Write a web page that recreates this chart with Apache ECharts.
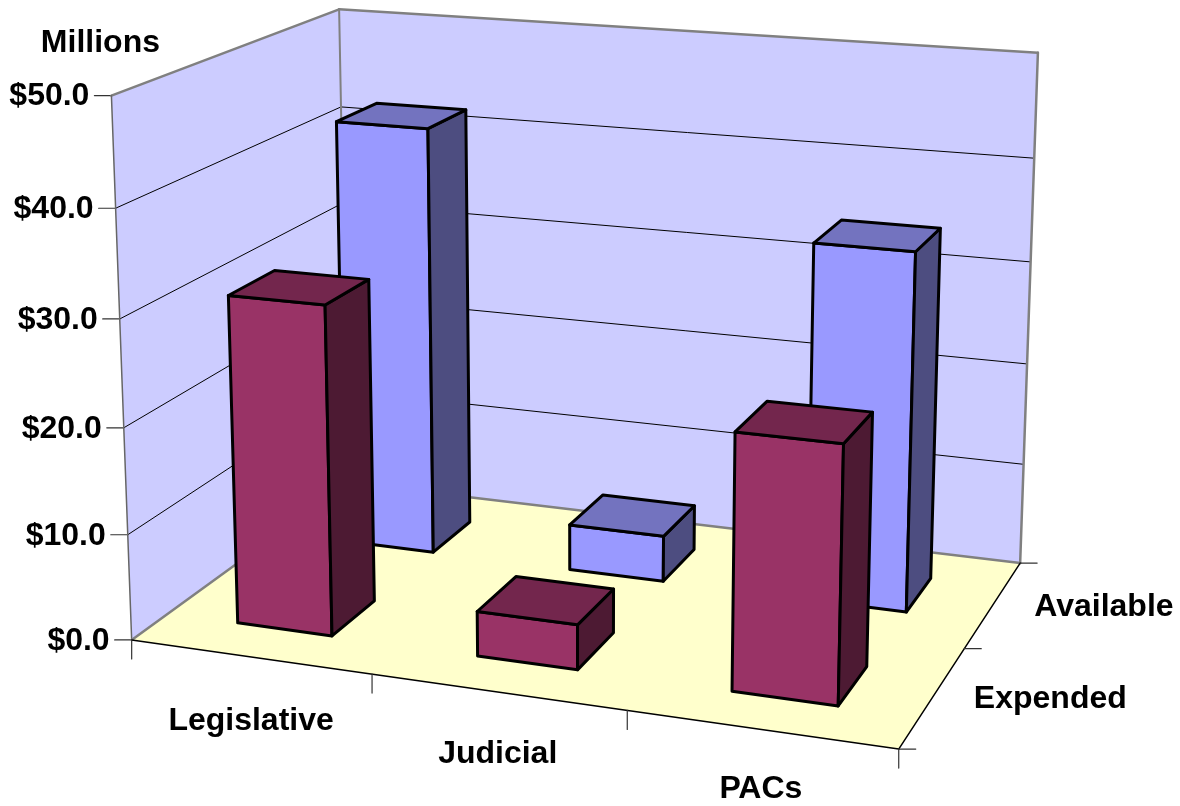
<!DOCTYPE html>
<html><head><meta charset="utf-8">
<style>html,body{margin:0;padding:0;background:#fff}#c{width:1180px;height:806px}</style>
<script src="https://cdn.jsdelivr.net/npm/echarts@6/dist/echarts.min.js"></script></head>
<body><div id="c"></div>
<script>
const categories = ['Legislative', 'Judicial', 'PACs'];
const depthRows = ['Expended', 'Available'];
const expended = [31, 4.2, 23.4];
const available = [42.2, 4.5, 34.3];
const valueTicks = [0, 10, 20, 30, 40, 50];
const unit = 'Millions';
const valueMax = 50;

// Perspective camera fitted to the reference's box: [x, depth, height] -> [px, py]
const anchors = [
  [0,0,0,133,640],[1,0,0,898,748],[1,1,0,1021,563],[0,1,0,347,482],
  [0,0,1,111,95],[0,1,1,340,9],[1,1,1,1039,53],
  [0,0,.8,115,208],[0,1,.8,341,108],[1,1,.8,1033,158],[1,1,.6,1030,262],[0,0,.6,120,319],
  [1/3,0,0,372,675],[2/3,0,0,627,711],[1,.5,0,965,649]
];
function fitCamera(pts){
  const n=11, A=[...Array(n)].map(()=>Array(n+1).fill(0));
  const add=(r,b)=>{for(let i=0;i<n;i++){for(let j=0;j<n;j++)A[i][j]+=r[i]*r[j];A[i][n]+=r[i]*b;}};
  pts.forEach(([x,y,z,px,py])=>{
    const u=px/1000,v=py/1000;
    add([x,y,z,1,0,0,0,0,-u*x,-u*y,-u*z],u);
    add([0,0,0,0,x,y,z,1,-v*x,-v*y,-v*z],v);
  });
  for(let i=0;i<n;i++){
    let m=i;for(let k=i+1;k<n;k++)if(Math.abs(A[k][i])>Math.abs(A[m][i]))m=k;
    [A[i],A[m]]=[A[m],A[i]];
    for(let k=0;k<n;k++){if(k===i)continue;const f=A[k][i]/A[i][i];for(let j=i;j<=n;j++)A[k][j]-=f*A[i][j];}
  }
  return A.map((r,i)=>r[n]/r[i]);
}
const cam = fitCamera(anchors);
function project(x,y,z){
  const w=cam[8]*x+cam[9]*y+cam[10]*z+1;
  return [1000*(cam[0]*x+cam[1]*y+cam[2]*z+cam[3])/w, 1000*(cam[4]*x+cam[5]*y+cam[6]*z+cam[7])/w];
}
const FONT = 'bold 32px "Liberation Sans", Arial, sans-serif';
const WALL='#CCCCFF', FLOOR='#FFFFCC', EDGE='#808080';
const catLabelDrop=[64,62,60], rowLabelDrop=[2,3];
const poly=(pts,fill,stroke,lw)=>({type:'polygon',shape:{points:pts},silent:true,style:{fill,stroke:stroke||null,lineWidth:lw||0,lineJoin:'round'}});
const seg=(a,b,stroke,lw)=>({type:'line',shape:{x1:a[0],y1:a[1],x2:b[0],y2:b[1]},silent:true,style:{stroke,lineWidth:lw,lineCap:'round'}});
const txt=(p,text,align)=>({type:'text',silent:true,style:{x:p[0],y:p[1],text,font:FONT,fill:'#000',align,verticalAlign:'middle'}});

function renderFrame(params,api){
  const s=params.coordSys, ch=[];
  const zOf=v=>(s.y+s.height-api.coord([0,v])[1])/s.height;
  const P=project;
  ch.push(poly([P(0,0,0),P(0,1,0),P(0,1,1),P(0,0,1)],WALL));
  ch.push(poly([P(0,1,0),P(1,1,0),P(1,1,1),P(0,1,1)],WALL));
  ch.push(poly([P(0,0,0),P(1,0,0),P(1,1,0),P(0,1,0)],FLOOR));
  valueTicks.forEach(v=>{
    const z=zOf(v), a=P(0,0,z);
    if(v>0&&v<valueMax){
      ch.push(seg(a,P(0,1,z),'#000',1));
      ch.push(seg(P(0,1,z),P(1,1,z),'#000',1));
    }
    ch.push(seg(a,[a[0]-17,a[1]],'#333',1.2));
    ch.push(txt([a[0]-22,a[1]+1],'$'+v.toFixed(1),'right'));
  });
  ch.push(seg(P(0,0,1),P(0,1,1),EDGE,2.5));
  ch.push(seg(P(0,1,1),P(1,1,1),EDGE,2.5));
  ch.push(seg(P(0,1,1),P(0,1,0),EDGE,2));
  ch.push(seg(P(1,1,1),P(1,1,0),EDGE,2.5));
  ch.push(seg(P(0,0,1),P(0,0,0),'#666',1.5));
  ch.push(seg(P(0,0,0),P(0,1,0),EDGE,2.5));
  ch.push(seg(P(0,1,0),P(1,1,0),EDGE,2.5));
  ch.push(seg(P(0,0,0),P(1,0,0),'#000',1.5));
  ch.push(seg(P(1,0,0),P(1,1,0),'#000',1.5));
  for(let i=0;i<=categories.length;i++){
    const a=P(i/categories.length,0,0);
    ch.push(seg(a,[a[0],a[1]+19],'#333',1.2));
  }
  categories.forEach((c,i)=>{
    const a=P((i+.5)/categories.length,0,0);
    ch.push(txt([a[0]+(i===0?1:0),a[1]+catLabelDrop[i]],c,'center'));
  });
  for(let r=0;r<=depthRows.length;r++){
    const a=P(1,r/depthRows.length,0);
    ch.push(seg(a,[a[0]+17,a[1]],'#333',1.2));
  }
  depthRows.forEach((c,r)=>{
    const a=P(1,(r+.5)/depthRows.length,0);
    ch.push(txt([a[0]+41,a[1]+rowLabelDrop[r]],c,'left'));
  });
  const top=P(0,0,1);
  ch.push(txt([top[0]-11,top[1]-52],unit,'center'));
  return {type:'group',children:ch};
}
const BAR_W=.4, BAR_D=.4;
function barRenderer(row,front,topC,side){
  return function(params,api){
    const s=params.coordSys;
    const c=api.coord([api.value(0),api.value(1)]);
    const u=(c[0]-s.x)/s.width, z=(s.y+s.height-c[1])/s.height;
    const hw=BAR_W/categories.length/2, hd=BAR_D/depthRows.length/2, v=(row+.5)/depthRows.length;
    const x0=u-hw,x1=u+hw,y0=v-hd,y1=v+hd,P=project;
    return {type:'group',children:[
      poly([P(x0,y0,0),P(x1,y0,0),P(x1,y0,z),P(x0,y0,z)],front,'#000',3),
      poly([P(x1,y0,0),P(x1,y1,0),P(x1,y1,z),P(x1,y0,z)],side,'#000',3),
      poly([P(x0,y0,z),P(x1,y0,z),P(x1,y1,z),P(x0,y1,z)],topC,'#000',3)
    ]};
  };
}
const rows=(vals)=>vals.map((v,i)=>[i,v]);
const chart=echarts.init(document.getElementById('c'),null,{renderer:'canvas'});
chart.setOption({
  animation:false,
  grid:{left:0,right:0,top:0,bottom:0},
  xAxis:{type:'category',data:categories,show:false},
  yAxis:{type:'value',min:0,max:valueMax,interval:10,show:false},
  tooltip:{show:false},
  series:[
    {type:'custom',name:'Frame',renderItem:renderFrame,data:[[0,0]],clip:false,silent:true,encode:{x:0,y:1}},
    {type:'custom',name:depthRows[1],renderItem:barRenderer(1,'#9999FF','#7373BF','#4D4D80'),data:rows(available),clip:false,encode:{x:0,y:1}},
    {type:'custom',name:depthRows[0],renderItem:barRenderer(0,'#993366','#73264D','#4D1A33'),data:rows(expended),clip:false,encode:{x:0,y:1}}
  ]
});
</script></body></html>
